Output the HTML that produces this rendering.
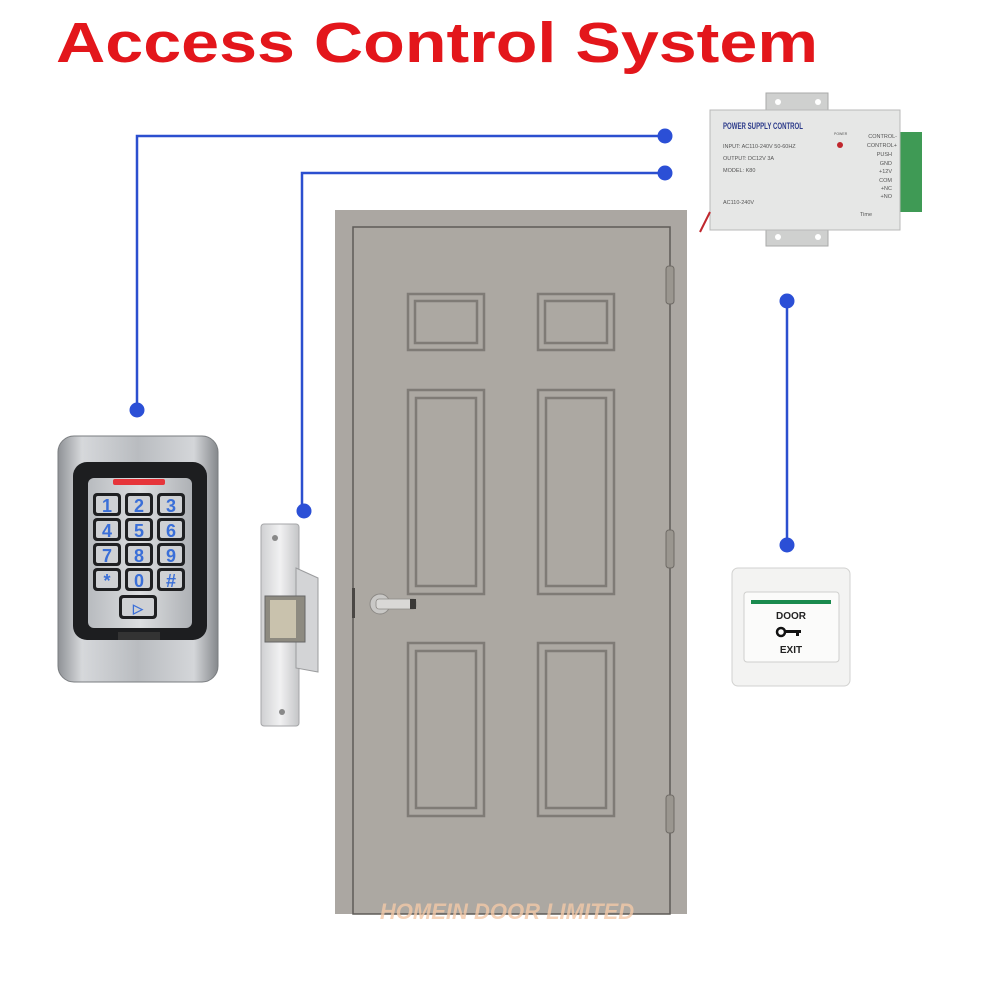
<!DOCTYPE html>
<html><head><meta charset="utf-8"><style>
html,body{margin:0;padding:0;background:#fff;}
body{width:1000px;height:1000px;position:relative;overflow:hidden;font-family:"Liberation Sans",sans-serif;}
</style></head><body>
<svg width="1000" height="1000" viewBox="0 0 1000 1000" xmlns="http://www.w3.org/2000/svg" style="position:absolute;left:0;top:0">
<defs>
<linearGradient id="kp" x1="0" x2="1"><stop offset="0" stop-color="#8f9296"/><stop offset="0.15" stop-color="#d6d8db"/><stop offset="0.5" stop-color="#b9bcc0"/><stop offset="0.85" stop-color="#d4d6d9"/><stop offset="1" stop-color="#85888c"/></linearGradient>
<linearGradient id="kf" x1="0" x2="1"><stop offset="0" stop-color="#b8bbbf"/><stop offset="0.5" stop-color="#dcdee0"/><stop offset="1" stop-color="#aeb1b5"/></linearGradient>
<linearGradient id="st" x1="0" x2="1"><stop offset="0" stop-color="#cfd0d2"/><stop offset="0.5" stop-color="#f1f1f2"/><stop offset="1" stop-color="#c4c5c7"/></linearGradient>
</defs>
<text x="56" y="62" font-family="Liberation Sans,sans-serif" font-weight="bold" font-size="57" fill="#e3161b" textLength="762" lengthAdjust="spacingAndGlyphs">Access Control System</text>

<g stroke="#2b4fcf" stroke-width="2.5" fill="none">
<polyline points="665,136 137,136 137,410"/>
<polyline points="665,173 302,173 302,510"/>
<line x1="787" y1="301" x2="787" y2="545"/>
</g>
<g fill="#2b4fd6">
<circle cx="665" cy="136" r="7.5"/><circle cx="665" cy="173" r="7.5"/>
<circle cx="137" cy="410" r="7.5"/><circle cx="304" cy="511" r="7.5"/>
<circle cx="787" cy="301" r="7.5"/><circle cx="787" cy="545" r="7.5"/>
</g>

<rect x="335" y="210" width="352" height="704" fill="#aba7a2"/>
<rect x="353" y="227" width="317" height="687" fill="#aca8a2" stroke="#5e5b57" stroke-width="1.5"/>
<g fill="none" stroke="#7f7b76" stroke-width="2.5">
<rect x="408" y="294" width="76" height="56"/><rect x="415" y="301" width="62" height="42"/>
<rect x="538" y="294" width="76" height="56"/><rect x="545" y="301" width="62" height="42"/>
<rect x="408" y="390" width="76" height="204"/><rect x="416" y="398" width="60" height="188"/>
<rect x="538" y="390" width="76" height="204"/><rect x="546" y="398" width="60" height="188"/>
<rect x="408" y="643" width="76" height="173"/><rect x="416" y="651" width="60" height="157"/>
<rect x="538" y="643" width="76" height="173"/><rect x="546" y="651" width="60" height="157"/>
</g>
<g fill="#9a968f" stroke="#6f6b66" stroke-width="1">
<rect x="666" y="266" width="8" height="38" rx="3"/>
<rect x="666" y="530" width="8" height="38" rx="3"/>
<rect x="666" y="795" width="8" height="38" rx="3"/>
</g>
<rect x="352" y="588" width="3" height="30" fill="#4a4744"/>
<circle cx="380" cy="604" r="10" fill="#c9c8c6" stroke="#8d8a86"/>
<rect x="376" y="599" width="40" height="10" rx="3" fill="#d9d8d6" stroke="#8d8a86" stroke-width="0.8"/>
<rect x="410" y="599" width="6" height="10" fill="#3a3836"/>
<text x="507" y="919" text-anchor="middle" font-family="Liberation Sans,sans-serif" font-weight="bold" font-style="italic" font-size="22" fill="#f3c9a8" opacity="0.8">HOMEIN DOOR LIMITED</text>

<rect x="766" y="93" width="62" height="18" fill="#cfd0cf" stroke="#a9aaa8"/>
<rect x="766" y="228" width="62" height="18" fill="#cfd0cf" stroke="#a9aaa8"/>
<circle cx="778" cy="102" r="3" fill="#fff"/><circle cx="818" cy="102" r="3" fill="#fff"/>
<circle cx="778" cy="237" r="3" fill="#fff"/><circle cx="818" cy="237" r="3" fill="#fff"/>
<rect x="898" y="132" width="24" height="80" fill="#3f9a55"/>
<rect x="710" y="110" width="190" height="120" fill="#e6e7e6" stroke="#b8b9b8"/>
<line x1="710" y1="212" x2="700" y2="232" stroke="#c0272d" stroke-width="2"/>
<text x="723" y="129" font-size="9" font-weight="bold" fill="#2b3a8a" textLength="80" lengthAdjust="spacingAndGlyphs">POWER SUPPLY CONTROL</text>
<g font-size="5.5" fill="#555">
<text x="723" y="148">INPUT: AC110-240V 50-60HZ</text>
<text x="723" y="160">OUTPUT: DC12V 3A</text>
<text x="723" y="172">MODEL: K80</text>
<text x="723" y="204">AC110-240V</text>
<text x="834" y="135" font-size="3.5">POWER</text>
<text x="897" y="138" text-anchor="end">CONTROL-</text>
<text x="897" y="147" text-anchor="end">CONTROL+</text>
<text x="892" y="156" text-anchor="end">PUSH</text>
<text x="892" y="165" text-anchor="end">GND</text>
<text x="892" y="173" text-anchor="end">+12V</text>
<text x="892" y="182" text-anchor="end">COM</text>
<text x="892" y="190" text-anchor="end">+NC</text>
<text x="892" y="198" text-anchor="end">+NO</text>
<text x="860" y="216">Time</text>
</g>
<circle cx="840" cy="145" r="3" fill="#c0272d"/>

<rect x="58" y="436" width="160" height="246" rx="16" fill="url(#kp)" stroke="#7a7d80"/>
<rect x="73" y="462" width="134" height="178" rx="14" fill="#1d1e20"/>
<rect x="88" y="478" width="104" height="150" rx="6" fill="url(#kf)"/>
<rect x="113" y="479" width="52" height="6" rx="2" fill="#e6353a"/>
<rect x="118" y="632" width="42" height="8" fill="#333"/>
<g font-size="18" font-weight="bold" fill="#3a6fd8" text-anchor="middle">
<g fill="#1f2022"><rect x="93" y="493" width="28" height="23" rx="4"/><rect x="125" y="493" width="28" height="23" rx="4"/><rect x="157" y="493" width="28" height="23" rx="4"/>
<rect x="93" y="518" width="28" height="23" rx="4"/><rect x="125" y="518" width="28" height="23" rx="4"/><rect x="157" y="518" width="28" height="23" rx="4"/>
<rect x="93" y="543" width="28" height="23" rx="4"/><rect x="125" y="543" width="28" height="23" rx="4"/><rect x="157" y="543" width="28" height="23" rx="4"/>
<rect x="93" y="568" width="28" height="23" rx="4"/><rect x="125" y="568" width="28" height="23" rx="4"/><rect x="157" y="568" width="28" height="23" rx="4"/>
<rect x="119" y="595" width="38" height="24" rx="4"/></g>
<g fill="#cfd1d4"><rect x="96" y="496" width="22" height="17" rx="2"/><rect x="128" y="496" width="22" height="17" rx="2"/><rect x="160" y="496" width="22" height="17" rx="2"/>
<rect x="96" y="521" width="22" height="17" rx="2"/><rect x="128" y="521" width="22" height="17" rx="2"/><rect x="160" y="521" width="22" height="17" rx="2"/>
<rect x="96" y="546" width="22" height="17" rx="2"/><rect x="128" y="546" width="22" height="17" rx="2"/><rect x="160" y="546" width="22" height="17" rx="2"/>
<rect x="96" y="571" width="22" height="17" rx="2"/><rect x="128" y="571" width="22" height="17" rx="2"/><rect x="160" y="571" width="22" height="17" rx="2"/>
<rect x="122" y="598" width="32" height="18" rx="2"/></g>
<text x="107" y="512">1</text><text x="139" y="512">2</text><text x="171" y="512">3</text>
<text x="107" y="537">4</text><text x="139" y="537">5</text><text x="171" y="537">6</text>
<text x="107" y="562">7</text><text x="139" y="562">8</text><text x="171" y="562">9</text>
<text x="107" y="587">*</text><text x="139" y="587">0</text><text x="171" y="587">#</text>
<text x="138" y="613" font-size="13">&#9655;</text>
</g>

<rect x="261" y="524" width="38" height="202" rx="3" fill="url(#st)" stroke="#a5a6a8"/>
<polygon points="296,568 318,578 318,672 296,668" fill="#d3d4d6" stroke="#9b9c9e"/>
<rect x="265" y="596" width="40" height="46" fill="#8d8a80" stroke="#666"/>
<rect x="270" y="600" width="26" height="38" fill="#c9c2ad"/>
<circle cx="275" cy="538" r="3" fill="#888"/><circle cx="282" cy="712" r="3" fill="#888"/>

<rect x="732" y="568" width="118" height="118" rx="6" fill="#f3f3f2" stroke="#d2d2d0"/>
<rect x="744" y="592" width="95" height="70" rx="3" fill="#fbfbfa" stroke="#cfcfcd"/>
<rect x="751" y="600" width="80" height="4" fill="#1a8a4e"/>
<text x="791" y="619" text-anchor="middle" font-size="10" font-weight="bold" fill="#222">DOOR</text>
<text x="791" y="653" text-anchor="middle" font-size="10" font-weight="bold" fill="#222">EXIT</text>
<circle cx="781" cy="632" r="4" fill="none" stroke="#111" stroke-width="2.5"/>
<rect x="785" y="630" width="16" height="3" fill="#111"/><rect x="796" y="630" width="3" height="6" fill="#111"/>
</svg>
</body></html>
